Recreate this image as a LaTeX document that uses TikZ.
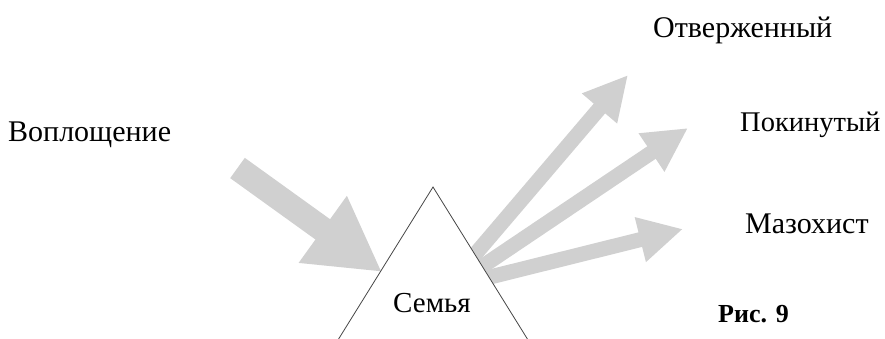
\documentclass[tikz,border=0pt]{standalone}
\usepackage{fontspec}
\setmainfont{Liberation Serif}
\usetikzlibrary{arrows.meta}
\definecolor{arrowgray}{RGB}{208,208,208}
\definecolor{edgegray}{RGB}{70,70,70}
\begin{document}
\begin{tikzpicture}[x=1pt,y=1pt,
  label/.style={inner sep=0pt,anchor=base west,font=\fontsize{30}{34}\selectfont},
  bigarrow/.style={draw=arrowgray,line width=25pt,-{Triangle[width=77pt,length=73pt]},arrowgray},
  thinarrow/.style={draw=arrowgray,line width=15pt,-{Triangle[width=43pt,length=44pt]},arrowgray},
  prism/.style={draw=edgegray,line width=0.8pt,fill=white}]
\useasboundingbox (0,0) rectangle (885,338);
\clip (0,0) rectangle (885,338);

% end points of the arrows
\coordinate (inTail) at (237.5,170);
\coordinate (inTip)  at (382,66);
\coordinate (aTail)  at (466,73);
\coordinate (aTip)   at (628,263);
\coordinate (bTail)  at (468,62);
\coordinate (bTip)   at (688,210);
\coordinate (cTail)  at (482,59);
\coordinate (cTip)   at (683,109);

% arrows
\draw[bigarrow]  (inTail) -- (inTip);
\draw[thinarrow] (aTail) -- (aTip);
\draw[thinarrow] (bTail) -- (bTip);
\draw[thinarrow] (cTail) -- (cTip);

% the triangle, cut by the lower edge
\coordinate (apex) at (433,151);
\coordinate (baseL) at (333,-10);
\coordinate (baseR) at (533,-10);
\draw[prism] (baseL) -- (apex) -- (baseR);

% labels
\node[label,font=\fontsize{29}{33}\selectfont] (semya) at (393,26) {Семья};
\node[label] (voploshch) at (8,197) {Воплощение};
\node[label] (otverzh) at (653,300) {Отверженный};
\node[label,font=\fontsize{28.5}{33}\selectfont] (pokinut) at (740,207) {Покинутый};
\node[label] (mazoch) at (745,105) {Мазохист};
\node[label,font=\fontsize{26}{30}\selectfont\bfseries] (fig) at (718,16) {Рис. 9};
\end{tikzpicture}
\end{document}
